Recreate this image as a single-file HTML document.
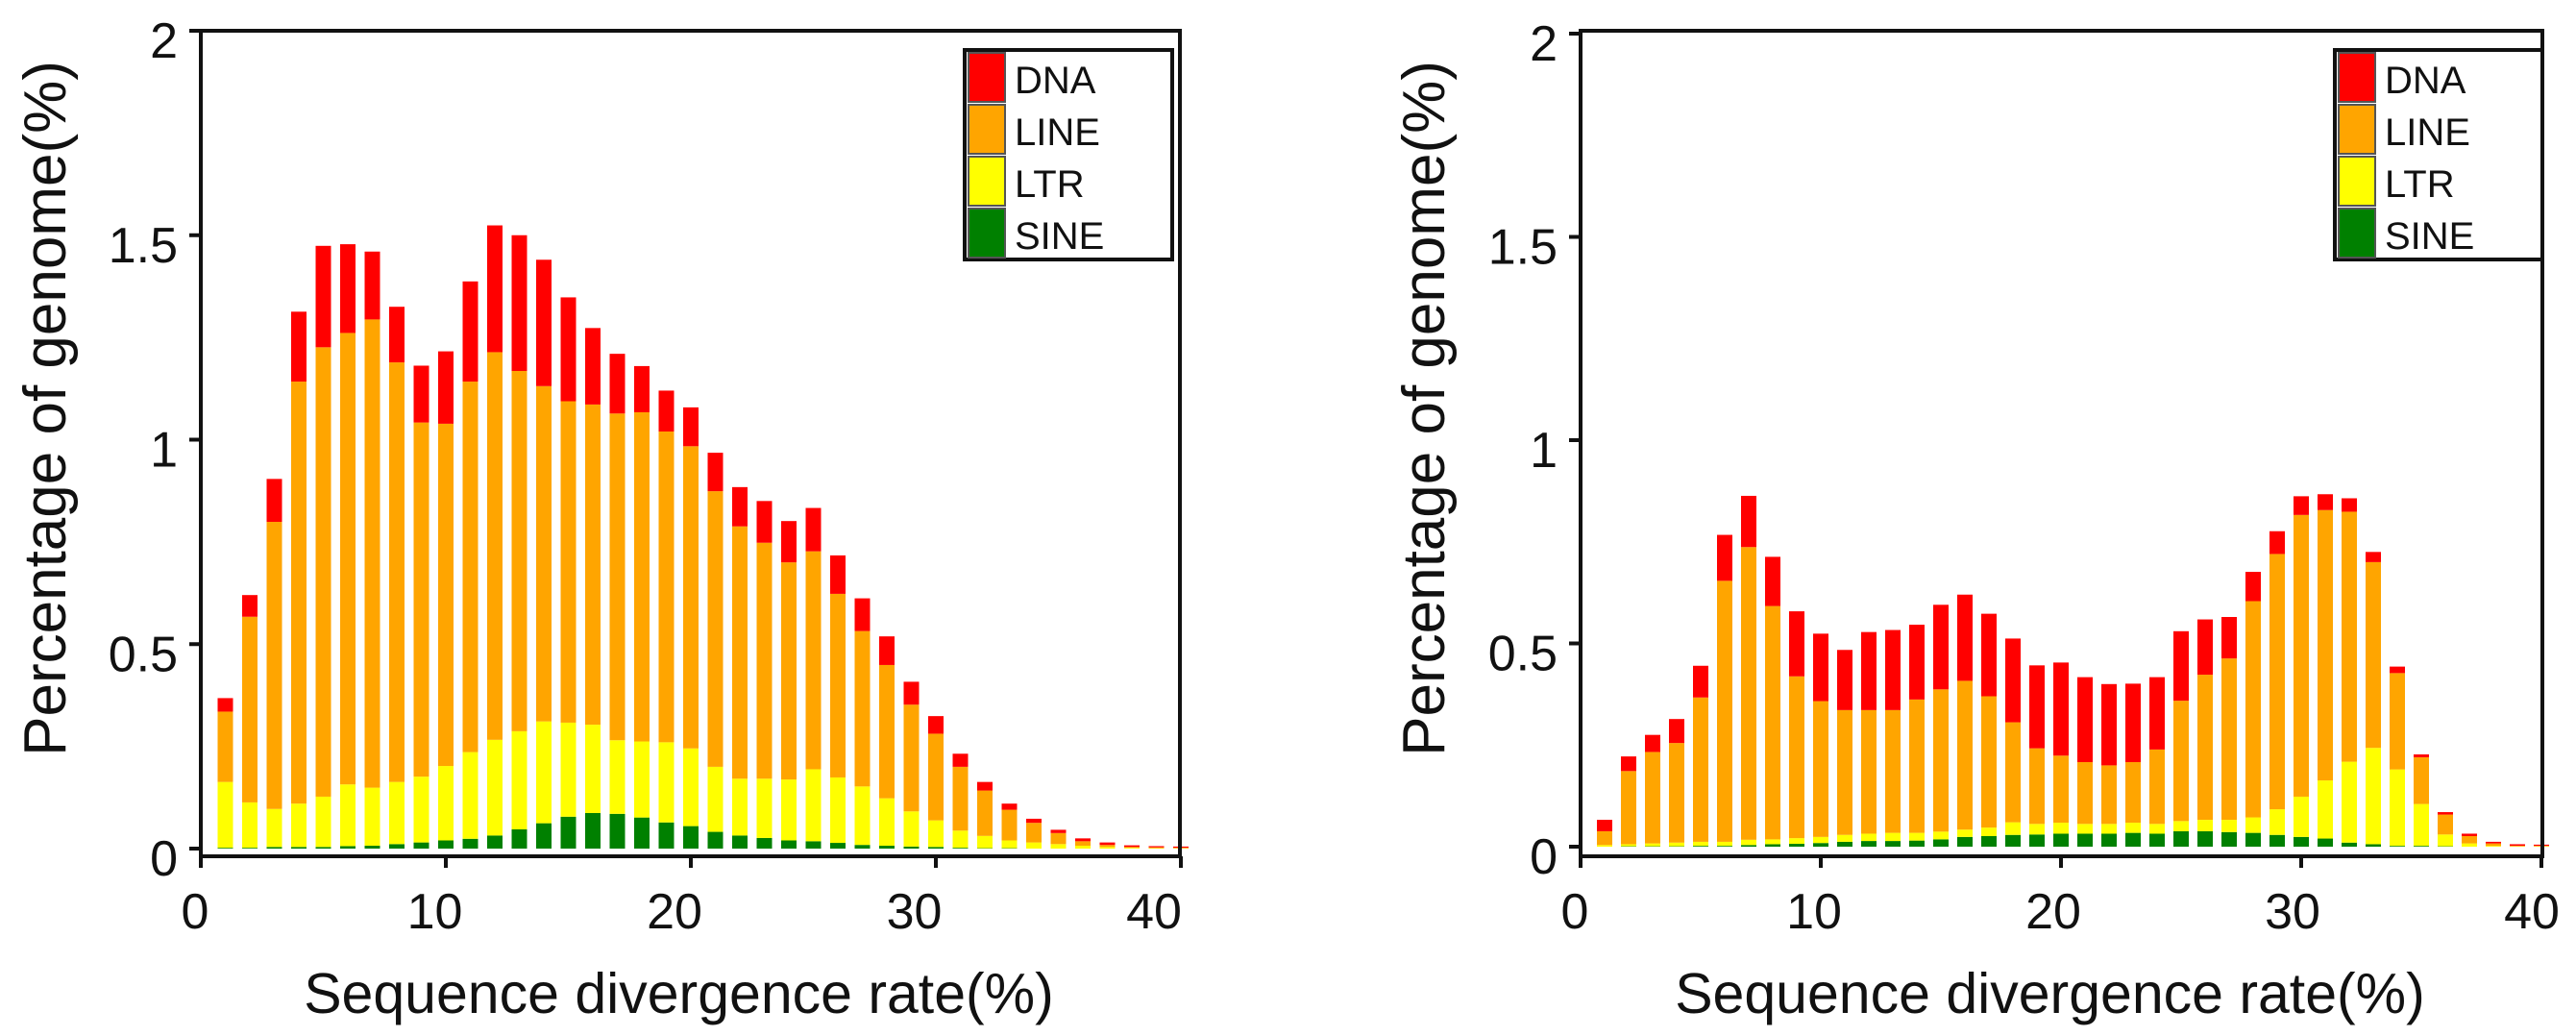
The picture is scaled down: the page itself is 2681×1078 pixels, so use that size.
<!DOCTYPE html>
<html><head><meta charset="utf-8"><style>
html,body{margin:0;padding:0;background:#fff;}
svg{display:block;font-family:"Liberation Sans",Arial,sans-serif;}
</style></head><body>
<svg id="fig" width="2681" height="1078" viewBox="0 0 2681 1078" xmlns="http://www.w3.org/2000/svg"></svg>
<script>
const categories = [1,2,3,4,5,6,7,8,9,10,11,12,13,14,15,16,17,18,19,20,21,22,23,24,25,26,27,28,29,30,31,32,33,34,35,36,37,38,39,40];
const xTickLabels = ["0","10","20","30","40"];
const yTickLabels = ["0","0.5","1","1.5","2"];
const seriesNames = ["DNA","LINE","LTR","SINE"];
const leftSINE = [.002,.002,.004,.004,.004,.006,.007,.011,.015,.02,.024,.032,.047,.062,.078,.087,.085,.076,.064,.055,.041,.032,.026,.02,.018,.014,.009,.007,.005,.004,.002,.001,.001,0,0,0,0,0,0,0];
const leftLTR = [.161,.111,.093,.106,.123,.151,.142,.152,.161,.182,.212,.234,.24,.249,.23,.216,.18,.186,.196,.19,.159,.139,.145,.149,.176,.16,.143,.116,.086,.065,.042,.03,.019,.015,.011,.007,.004,.002,.001,.001];
const leftLINE = [.172,.454,.702,1.032,1.099,1.104,1.145,1.026,.866,.837,.906,.948,.881,.82,.786,.783,.799,.805,.76,.739,.674,.617,.577,.531,.533,.449,.38,.326,.261,.212,.156,.111,.075,.048,.027,.011,.005,.002,.002,.001];
const leftDNA = [.033,.053,.105,.171,.248,.217,.166,.136,.139,.177,.245,.31,.332,.309,.254,.187,.146,.113,.1,.095,.094,.096,.102,.101,.106,.094,.08,.07,.056,.043,.032,.021,.015,.01,.008,.007,.006,.004,.003,.003];
const rightSINE = [0,.001,.001,.001,.002,.002,.004,.006,.007,.009,.012,.014,.014,.015,.018,.024,.026,.029,.03,.032,.032,.032,.034,.032,.038,.038,.036,.034,.029,.024,.02,.01,.006,.002,.002,.001,0,0,0,0];
const rightLTR = [.004,.005,.007,.009,.01,.01,.013,.012,.014,.015,.017,.018,.02,.019,.019,.018,.021,.031,.026,.027,.024,.024,.025,.024,.025,.028,.03,.038,.063,.099,.143,.199,.237,.188,.103,.029,.008,.002,.001,.001];
const rightLINE = [.034,.18,.225,.245,.355,.642,.72,.574,.398,.334,.307,.304,.302,.328,.35,.366,.323,.246,.186,.165,.152,.144,.149,.183,.296,.357,.397,.532,.628,.693,.665,.615,.457,.237,.115,.049,.018,.006,.001,.001];
const rightDNA = [.028,.036,.042,.059,.078,.113,.126,.121,.16,.166,.148,.192,.197,.184,.208,.212,.203,.206,.204,.229,.209,.2,.193,.178,.171,.136,.102,.072,.056,.046,.039,.033,.025,.016,.007,.006,.006,.004,.004,.003];

const NS = "http://www.w3.org/2000/svg";
const svg = document.getElementById("fig");
const colors = {DNA:"#ff0000", LINE:"#ffa500", LTR:"#ffff00", SINE:"#008000"};
function mk(tag, attrs, parent){
  const e = document.createElementNS(NS, tag);
  for (const k in attrs) e.setAttribute(k, attrs[k]);
  (parent||svg).appendChild(e);
  return e;
}
function drawChart(prefix, cfg, sine, ltr, line, dna){
  const g = mk("g", {});
  
  
  const xs = v => cfg.x0 + cfg.ux * v;
  const ys = v => cfg.y0 - cfg.uy * v;
  const stack = [["SINE",sine],["LTR",ltr],["LINE",line],["DNA",dna]];
  categories.forEach((c,i)=>{
    let base = 0;
    stack.forEach(([name,arr])=>{
      const v = arr[i];
      if (v > 0){
        const r = mk("rect", {x: xs(c)-8, y: ys(base+v), width: 16, height: ys(base)-ys(base+v), fill: colors[name]}, g);
        
        
      }
      base += v;
    });
  });
  const fr = mk("rect", {x: cfg.x0, y: cfg.top, width: cfg.right - cfg.x0, height: cfg.bottom - cfg.top, fill: "none", stroke: "#111", "stroke-width": 4}, g);
  
  
  yTickLabels.forEach(lab=>{
    const v = parseFloat(lab);
    const t = mk("line", {x1: cfg.x0-12, x2: cfg.x0, y1: ys(v), y2: ys(v), stroke: "#111", "stroke-width": 4}, g);
    
    
    const tx = mk("text", {x: cfg.x0-24, y: ys(v)+28, "font-size": 52, "text-anchor": "end", fill: "#111"}, g);
    tx.textContent = lab;
    
    
  });
  xTickLabels.forEach(lab=>{
    const v = parseFloat(lab);
    const t = mk("line", {x1: xs(v), x2: xs(v), y1: cfg.bottom, y2: cfg.bottom+12, stroke: "#111", "stroke-width": 4}, g);
    
    
    const tx = mk("text", {x: xs(v) + cfg.lab0 + cfg.labK * v, y: 966, "font-size": 52, "text-anchor": "middle", fill: "#111"}, g);
    tx.textContent = lab;
    
    
  });
  const xt = mk("text", {x: (cfg.x0+cfg.right)/2 - 12, y: 1054, "font-size": 59, "text-anchor": "middle", fill: "#111"}, g);
  xt.textContent = "Sequence divergence rate(%)";
  
  
  const yt = mk("text", {x: 0, y: 0, "font-size": 62, "text-anchor": "middle", fill: "#111", transform: "translate(" + (cfg.ylabX+22) + "," + 425 + ") rotate(-90)"}, g);
  yt.textContent = "Percentage of genome(%)";
  
  
  const lg = mk("g", {}, g);
  
  
  const lb = mk("rect", {x: cfg.legX, y: 52, width: 216, height: 218, fill: "#fff", stroke: "#111", "stroke-width": 4}, lg);
  
  
  seriesNames.forEach((n,i)=>{
    const sw = mk("rect", {x: cfg.legX+4, y: 55+i*54, width: 38, height: 51, fill: colors[n], stroke: "#555", "stroke-width": 2}, lg);
    
    
    const lt = mk("text", {x: cfg.legX+52, y: 55+i*54+42, "font-size": 40, fill: "#111"}, lg);
    lt.textContent = n;
    
    
  });
}
drawChart("left", {x0:209, ux:25.5, y0:883, uy:425.5, top:32, bottom:891, right:1228, ylabX:46, legX:1004, lab0:-6, labK:-0.55}, leftSINE, leftLTR, leftLINE, leftDNA);
drawChart("right", {x0:1645, ux:25.0, y0:881, uy:423, top:32, bottom:891, right:2646, ylabX:1481, legX:2430, lab0:-6, labK:-0.1}, rightSINE, rightLTR, rightLINE, rightDNA);
</script>
</body></html>
